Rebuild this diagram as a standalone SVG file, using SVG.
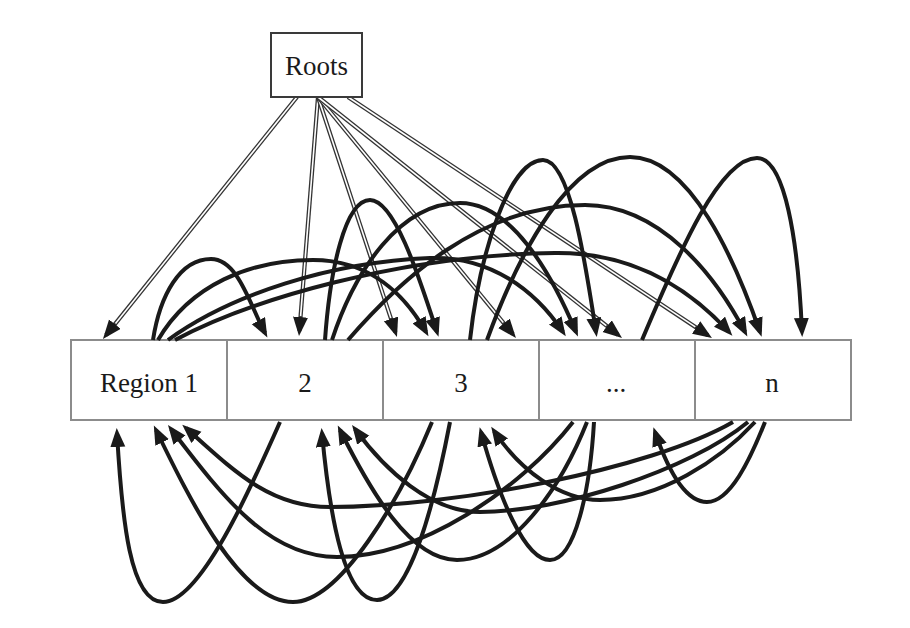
<svg xmlns="http://www.w3.org/2000/svg" width="910" height="628" viewBox="0 0 910 628">
<style>
.cell{fill:#fff;stroke:#8c8c8c;stroke-width:2}
.box{fill:#fff;stroke:#3a3a3a;stroke-width:2}
.lbl{font-family:"Liberation Serif","Times New Roman",serif;font-size:27px;fill:#1a1a1a;text-anchor:middle}
.arc{fill:none;stroke:#1a1a1a;stroke-width:4;marker-end:url(#ah)}
.dbl{fill:none;stroke:#333;stroke-width:4.2;marker-end:url(#ah)}
.dbl-in{fill:none;stroke:#fff;stroke-width:1.6}
</style>
<defs>
<marker id="ah" markerUnits="userSpaceOnUse" markerWidth="20" markerHeight="16" refX="14" refY="7.5" orient="auto">
<path d="M0,0 L19,7.5 L0,15 z" fill="#1a1a1a"/>
</marker>
</defs>
<rect width="910" height="628" fill="#fff"/>
<g id="region1"><rect class="cell" x="71" y="340" width="156" height="80"/><text class="lbl" x="149" y="392">Region 1</text></g>
<g id="region2"><rect class="cell" x="227" y="340" width="156" height="80"/><text class="lbl" x="305" y="392">2</text></g>
<g id="region3"><rect class="cell" x="383" y="340" width="156" height="80"/><text class="lbl" x="461" y="392">3</text></g>
<g id="regiondots"><rect class="cell" x="539" y="340" width="156" height="80"/><text class="lbl" x="616" y="392">...</text></g>
<g id="regionn"><rect class="cell" x="695" y="340" width="156" height="80"/><text class="lbl" x="772" y="392">n</text></g>
<g id="connectors">
<path class="dbl" d="M297,97 L106.1,335.1"/><path class="dbl-in" d="M297,97 L115.5,323.4"/>
<path class="dbl" d="M318,97 L299.4,331"/><path class="dbl-in" d="M318,97 L300.6,316.1"/>
<path class="dbl" d="M318,97 L395.4,332.2"/><path class="dbl-in" d="M318,97 L390.8,318"/>
<path class="dbl" d="M318,97 L512.8,334.1"/><path class="dbl-in" d="M318,97 L503.3,322.5"/>
<path class="dbl" d="M318,97 L618.1,334.9"/><path class="dbl-in" d="M318,97 L606.3,325.6"/>
<path class="dbl" d="M348,97 L707.8,335.2"/><path class="dbl-in" d="M348,97 L695.3,326.9"/>
<path class="arc" d="M153,340 C160,295 180,259 211,259 C238,259 250,305 265,333"/>
<path class="arc" d="M158,340 C190,285 250,260 313,260 C370,260 405,295 426,332"/>
<path class="arc" d="M168,340 C230,295 330,262 430,258 C490,256 535,290 563,332"/>
<path class="arc" d="M175,340 C250,300 400,255 555,253 C640,252 695,295 729,332"/>
<path class="arc" d="M325,340 C330,270 345,200 370,200 C395,200 420,280 437,332"/>
<path class="arc" d="M332,340 C355,270 400,203 460,203 C510,203 550,270 576,332"/>
<path class="arc" d="M348,340 C400,280 480,205 585,205 C660,205 715,275 745,332"/>
<path class="arc" d="M470,340 C480,250 510,160 543,160 C570,160 585,260 596,332"/>
<path class="arc" d="M487,340 C520,250 570,157 630,157 C690,157 735,260 760,332"/>
<path class="arc" d="M642,340 C680,250 720,158 757,158 C785,158 798,240 802,332"/>
<path class="arc" d="M280,422 C250,490 200,602 163,602 C130,602 122,520 117,433"/>
<path class="arc" d="M432,422 C400,500 340,602 293,602 C240,602 190,500 156,430"/>
<path class="arc" d="M573,422 C520,490 420,557 337,557 C270,557 225,500 171,429"/>
<path class="arc" d="M733,422 C650,470 450,507 330,507 C270,507 235,472 186,428"/>
<path class="arc" d="M450,422 C435,500 410,600 377,600 C345,600 330,520 322,433"/>
<path class="arc" d="M587,422 C560,490 510,560 457,560 C410,560 370,490 340,430"/>
<path class="arc" d="M748,422 C690,470 560,512 480,512 C430,512 385,470 355,429"/>
<path class="arc" d="M594,422 C590,490 575,560 550,560 C525,560 500,500 481,432"/>
<path class="arc" d="M755,422 C720,460 660,500 600,500 C560,500 520,470 494,431"/>
<path class="arc" d="M765,422 C750,460 730,502 707,502 C685,502 668,470 655,432"/>
</g>
<g id="roots"><rect class="box" x="271" y="33" width="91" height="64"/><text class="lbl" x="316.5" y="75">Roots</text></g>
</svg>
